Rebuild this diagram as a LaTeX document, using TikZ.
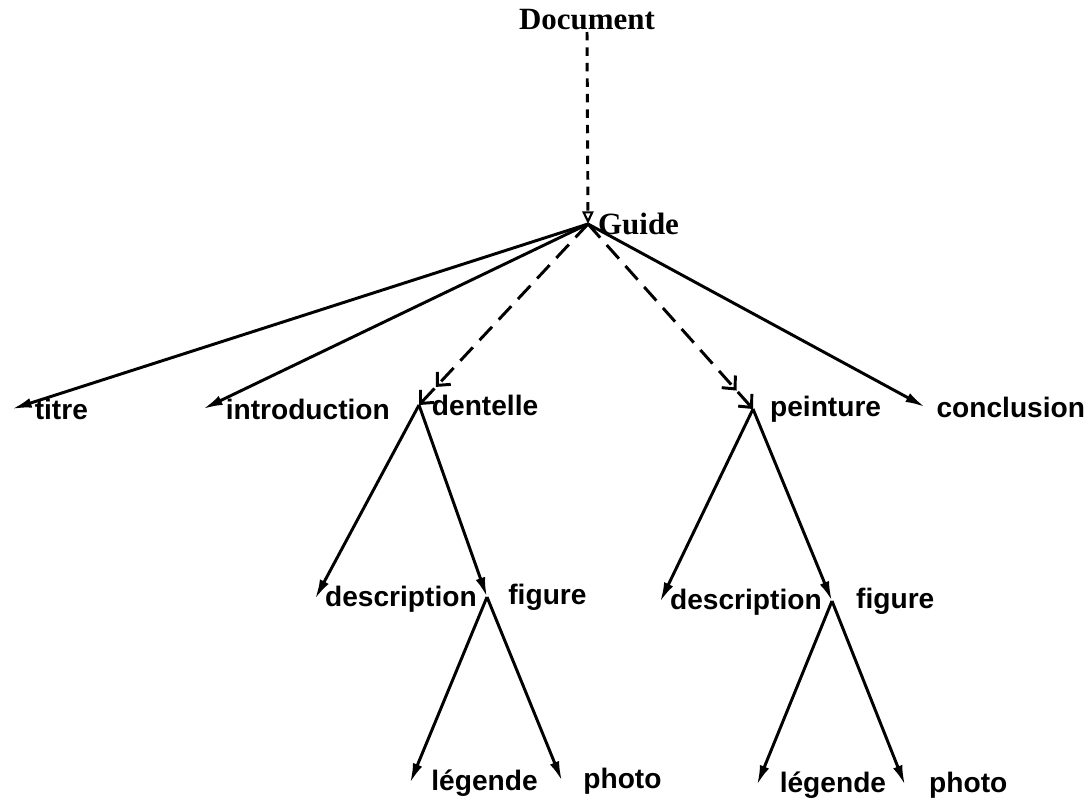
\documentclass[tikz,border=0pt]{standalone}
\usepackage{fontspec}
\setmainfont{Liberation Serif}
\setsansfont{Liberation Sans}
\usetikzlibrary{arrows.meta}

\begin{document}
\begin{tikzpicture}[
		x=0.025cm, y=-0.025cm,
		ar/.style={-{Latex[length=14pt,width=7pt]}, line width=2.1pt},
		dar/.style={-{Straight Barb[length=7pt,width=13pt,sep=8pt] Straight Barb[length=7pt,width=13pt]}, line width=2.1pt, dash pattern=on 13pt off 7pt},
		oar/.style={-{Triangle[open,length=9pt,width=8pt,line width=1.5pt]}, line width=2.1pt, dash pattern=on 6pt off 5pt},
		lbl/.style={font=\sffamily\bfseries\fontsize{20}{24}\selectfont, anchor=west, inner xsep=12pt, inner ysep=0pt},
		top/.style={font=\rmfamily\bfseries\fontsize{22}{25}\selectfont, inner sep=1pt}
	]
		\useasboundingbox (0,0) rectangle (1089,801);
		\node[top] (doc) at (587,20) {Document};
		\node[top, anchor=west, inner xsep=7pt] (guide) at (588,224) {Guide};
		\node[lbl, inner xsep=16pt] (titre) at (12,409) {titre};
		\node[lbl, inner xsep=16pt] (intro) at (203,409) {introduction};
		\node[lbl, inner xsep=9pt] (dentelle) at (419,405) {dentelle};
		\node[lbl] (peinture) at (753,409) {peinture};
		\node[lbl, inner xsep=8pt] (concl) at (925,407) {conclusion};
		\node[lbl, inner xsep=7pt] (descA) at (315,599) {description};
		\node[lbl, inner xsep=15pt] (figA) at (487,597) {figure};
		\node[lbl, inner xsep=15pt] (legA) at (410,783) {légende};
		\node[lbl, inner xsep=15pt] (phoA) at (562,781) {photo};
		\node[lbl, inner xsep=7pt] (descB) at (660,602) {description};
		\node[lbl, inner xsep=17pt] (figB) at (832,601) {figure};
		\node[lbl, inner xsep=16pt] (legB) at (757,785) {légende};
		\node[lbl, inner xsep=17pt] (phoB) at (905,785) {photo};
		\draw[oar] (doc.south) -- (guide.west);
		\draw[ar] (guide.west) -- (titre.west);
		\draw[ar] (guide.west) -- (intro.west);
		\draw[dar] (guide.west) -- (dentelle.west);
		\draw[dar] (guide.west) -- (peinture.west);
		\draw[ar] (guide.west) -- (concl.west);
		\draw[ar] (dentelle.west) -- (descA.west);
		\draw[ar] (dentelle.west) -- (figA.west);
		\draw[ar] (figA.west) -- (legA.west);
		\draw[ar] (figA.west) -- (phoA.west);
		\draw[ar] (peinture.west) -- (descB.west);
		\draw[ar] (peinture.west) -- (figB.west);
		\draw[ar] (figB.west) -- (legB.west);
		\draw[ar] (figB.west) -- (phoB.west);
	\end{tikzpicture}
\end{document}
